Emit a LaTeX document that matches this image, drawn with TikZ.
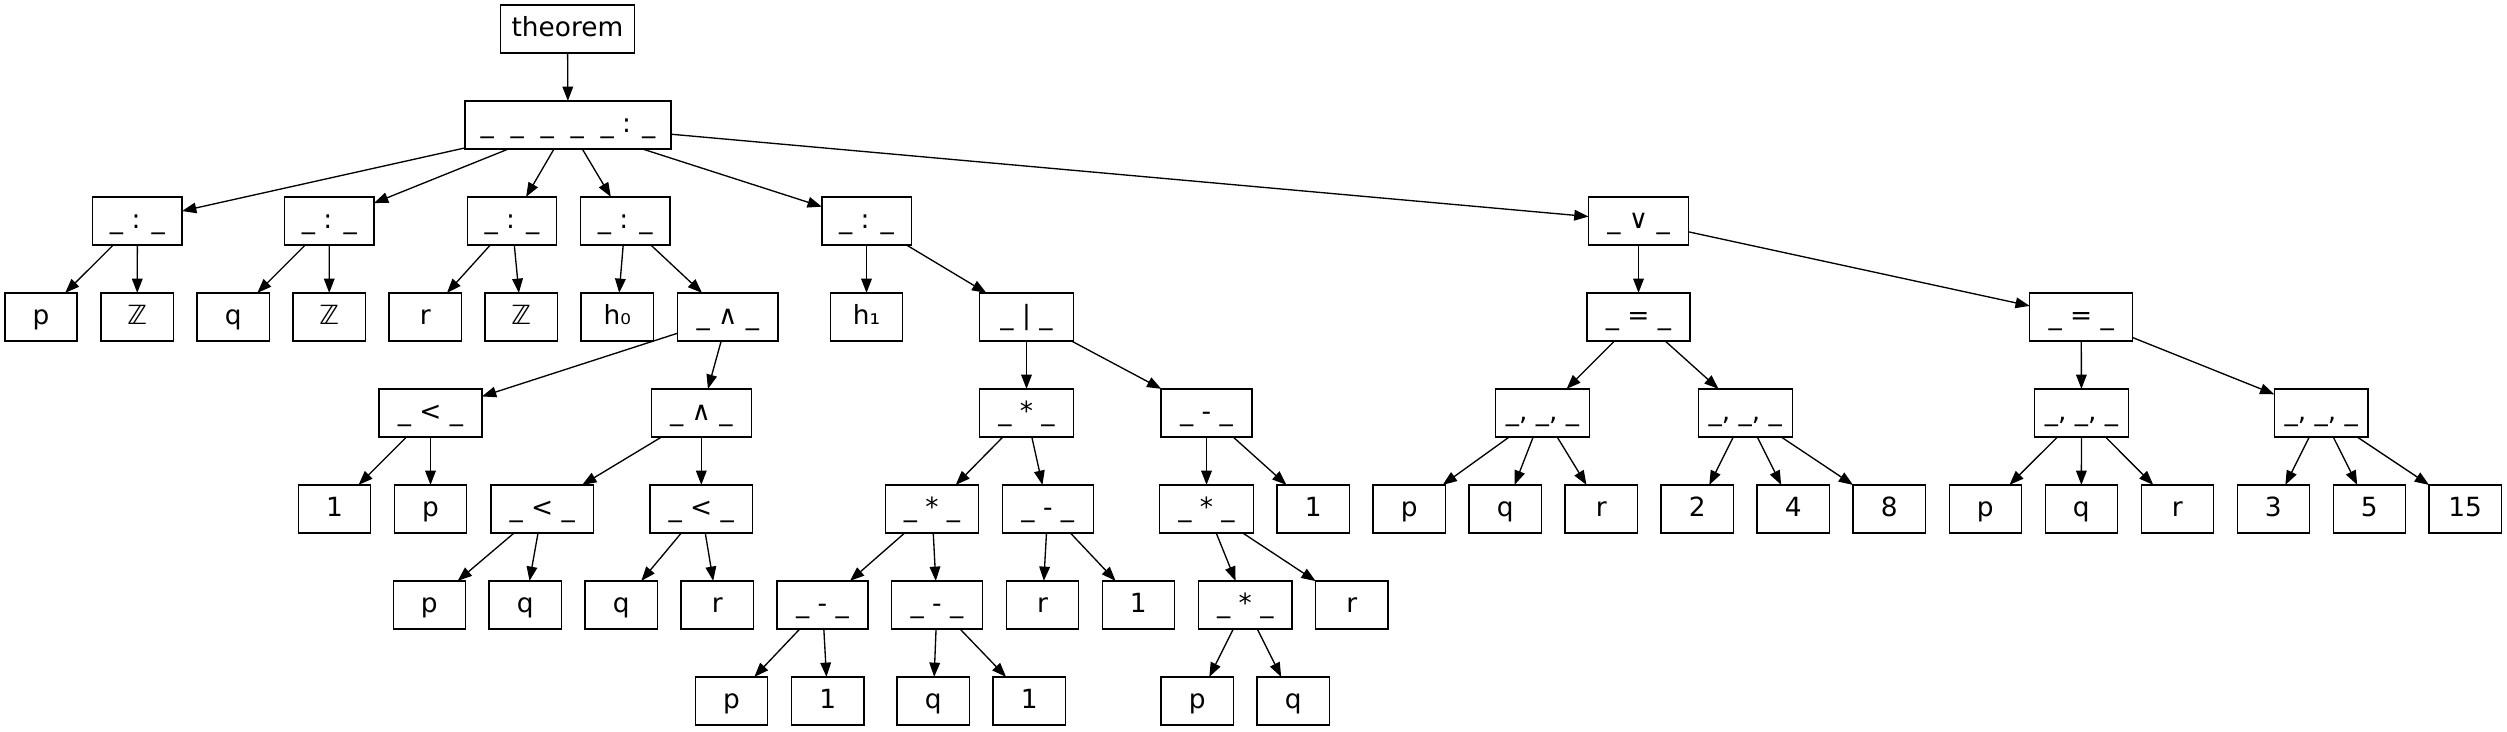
\documentclass[tikz,border=0pt]{standalone}
\usepackage{fontspec}
\setmainfont{DejaVu Sans}
\usetikzlibrary{arrows.meta}
\begin{document}
\begin{tikzpicture}[x=0.75bp,y=-0.75bp,
  box/.style={draw=black, line width=1bp, rectangle, inner sep=0pt, outer sep=0pt,
    minimum height=36.2bp, text height=15bp, text depth=4.5bp,
    font=\fontsize{19.8bp}{24bp}\selectfont},
  leaf/.style={box, minimum width=54.2bp},
  opcolon/.style={box, minimum width=67bp},
  opand/.style={box, minimum width=75.2bp},
  oplt/.style={box, minimum width=77.2bp},
  opbar/.style={box, minimum width=70.3bp},
  opmul/.style={box, minimum width=70.1bp},
  opsub/.style={box, minimum width=68.2bp},
  optup/.style={box, minimum width=70.3bp},
  opeq/.style={box, minimum width=77.2bp},
  opor/.style={box, minimum width=75bp},
  conn/.style={draw=black, line width=1bp, -{Triangle[length=10.7bp,width=8bp]}}]
\useasboundingbox (0,0) rectangle (2507,731);
% row 0 / 1
\node[box, minimum width=100.3bp] (thm) at (567.5,29) {theorem};
\node[box, minimum width=154.3bp] (root) at (568,125) {\_\ \ \_\ \ \_\ \ \_\ \ \_ : \_};
% row 2
\node[opcolon] (c1) at (137.4,221) {\_ : \_};
\node[opcolon] (c2) at (329.3,221) {\_ : \_};
\node[opcolon] (c3) at (512,221) {\_ : \_};
\node[opcolon] (c4) at (625.2,221) {\_ : \_};
\node[opcolon] (c5) at (866.5,221) {\_ : \_};
\node[opor] (or) at (1638.5,221) {\_ ∨ \_};
% row 3
\node[leaf] (p1) at (41,317) {p};
\node[leaf] (Z1) at (137.2,317) {ℤ};
\node[leaf] (q1) at (233.2,317) {q};
\node[leaf] (Z2) at (329.2,317) {ℤ};
\node[leaf] (r1) at (425.2,317) {r};
\node[leaf] (Z3) at (521.2,317) {ℤ};
\node[leaf] (h0) at (617.2,317) {h₀};
\node[opand] (and1) at (727.8,317) {\_ ∧ \_};
\node[leaf] (h1) at (866.5,317) {h₁};
\node[opbar] (bar) at (1026.5,317) {\_ | \_};
\node[opeq] (eq1) at (1638.5,317) {\_ = \_};
\node[opeq] (eq2) at (2081.2,317) {\_ = \_};
% row 4
\node[oplt] (lt1) at (430.5,413) {\_ < \_};
\node[opand] (and2) at (701.3,413) {\_ ∧ \_};
\node[opmul] (mul1) at (1026.5,413) {\_ * \_};
\node[opsub] (sub1) at (1206.5,413) {\_ - \_};
\node[optup] (tup1) at (1542.5,413) {\_, \_, \_};
\node[optup] (tup2) at (1745.3,413) {\_, \_, \_};
\node[optup] (tup3) at (2081.5,413) {\_, \_, \_};
\node[optup] (tup4) at (2321.2,413) {\_, \_, \_};
% row 5
\node[leaf] (one1) at (334.5,509) {1};
\node[leaf] (p2) at (430.5,509) {p};
\node[oplt] (lt2) at (542.3,509) {\_ < \_};
\node[oplt] (lt3) at (701.3,509) {\_ < \_};
\node[opmul] (mul2) at (932,509) {\_ * \_};
\node[opsub] (sub2) at (1047.8,509) {\_ - \_};
\node[opmul] (mul3) at (1206.5,509) {\_ * \_};
\node[leaf] (one5) at (1313.2,509) {1};
\node[leaf] (p6) at (1409.2,509) {p};
\node[leaf] (q6) at (1505.2,509) {q};
\node[leaf] (r5) at (1601.2,509) {r};
\node[leaf] (two) at (1697.2,509) {2};
\node[leaf] (four) at (1793.2,509) {4};
\node[leaf] (eight) at (1889.2,509) {8};
\node[leaf] (p7) at (1985.3,509) {p};
\node[leaf] (q7) at (2081.3,509) {q};
\node[leaf] (r6) at (2177.3,509) {r};
\node[leaf] (three) at (2273.3,509) {3};
\node[leaf] (five) at (2369.3,509) {5};
\node[leaf] (fifteen) at (2465.2,509) {15};
% row 6
\node[leaf] (p3) at (429.3,605) {p};
\node[leaf] (q2) at (525.2,605) {q};
\node[leaf] (q3) at (621.2,605) {q};
\node[leaf] (r2) at (717.2,605) {r};
\node[opsub] (sub3) at (822.5,605) {\_ - \_};
\node[opsub] (sub4) at (937,605) {\_ - \_};
\node[leaf] (r3) at (1042.5,605) {r};
\node[leaf] (one4) at (1138.3,605) {1};
\node[opmul] (mul4) at (1245.3,605) {\_ * \_};
\node[leaf] (r4) at (1351.8,605) {r};
% row 7
\node[leaf] (p4) at (731.5,701) {p};
\node[leaf] (one2) at (827.8,701) {1};
\node[leaf] (q4) at (933.2,701) {q};
\node[leaf] (one3) at (1029.2,701) {1};
\node[leaf] (p5) at (1197.2,701) {p};
\node[leaf] (q5) at (1293.2,701) {q};
% connectors
\foreach \a/\b in {thm/root, root/c1, root/c2, root/c3, root/c4, root/c5, root/or,
  c1/p1, c1/Z1, c2/q1, c2/Z2, c3/r1, c3/Z3, c4/h0, c4/and1,
  and1/lt1, and1/and2, lt1/one1, lt1/p2, and2/lt2, and2/lt3,
  lt2/p3, lt2/q2, lt3/q3, lt3/r2,
  c5/h1, c5/bar, bar/mul1, bar/sub1, mul1/mul2, mul1/sub2,
  mul2/sub3, mul2/sub4, sub3/p4, sub3/one2, sub4/q4, sub4/one3,
  sub2/r3, sub2/one4, sub1/mul3, sub1/one5, mul3/mul4, mul3/r4,
  mul4/p5, mul4/q5,
  or/eq1, or/eq2, eq1/tup1, eq1/tup2, tup1/p6, tup1/q6, tup1/r5,
  tup2/two, tup2/four, tup2/eight, eq2/tup3, eq2/tup4,
  tup3/p7, tup3/q7, tup3/r6, tup4/three, tup4/five, tup4/fifteen}
  \draw[conn] (\a) -- (\b);
\end{tikzpicture}
\end{document}
